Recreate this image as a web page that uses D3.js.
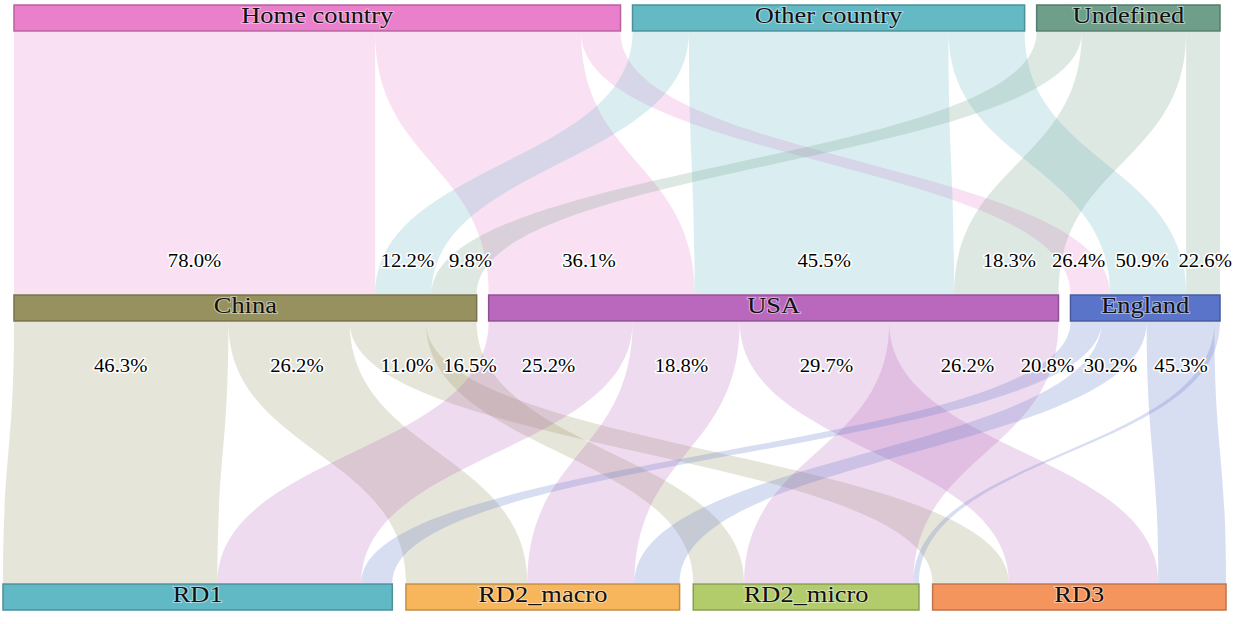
<!DOCTYPE html>
<html>
<head>
<meta charset="utf-8">
<script src="https://cdn.jsdelivr.net/npm/d3@7"></script>
<style>
  body { margin: 0; background: #fff; }
  text { font-family: "Liberation Serif", "Times New Roman", serif; }
</style>
</head>
<body>
<svg id="chart"></svg>
<script>
// categories for the three levels
var topNodes = ["Home country", "Other country", "Undefined"];
var midNodes = ["China", "USA", "England"];
var botNodes = ["RD1", "RD2_macro", "RD2_micro", "RD3"];

// counts: rows = top node, cols = middle node
var topToMid = [
  [128, 73, 14],
  [20, 92, 27],
  [16, 37, 12]
];
// counts: rows = middle node, cols = bottom node
var midToBot = [
  [76, 43, 18, 27],
  [51, 38, 60, 53],
  [11, 16, 2, 24]
];
// order in which the ribbons leave a middle node
var midOutOrder = ["RD1", "RD2_macro", "RD3", "RD2_micro"];

var topColors = ["#ea7fcb", "#63b9c4", "#6f9f8a"];
var midColors = ["#979160", "#b968bd", "#5a74c9"];
var botColors = ["#62b9c6", "#f8b65c", "#b3cc6b", "#f5955e"];

var w = 1248, h = 624;
var barH = 26;
var labelGap = 63;
var fmt = d3.format(".1%");

var svg = d3.select("#chart")
  .attr("width", w)
  .attr("height", h);

var topVals = topToMid.map(function(r) { return d3.sum(r); });
var midVals = midToBot.map(function(r) { return d3.sum(r); });
var botVals = botNodes.map(function(d, j) { return d3.sum(midToBot, function(r) { return r[j]; }); });
var total = d3.sum(topVals);

var rows = [
  { names: topNodes, vals: topVals, colors: topColors, y: 5, x0: 14, x1: 1220 },
  { names: midNodes, vals: midVals, colors: midColors, y: 295, x0: 14, x1: 1220 },
  { names: botNodes, vals: botVals, colors: botColors, y: 584, x0: 3, x1: 1226 }
];

// one scale for all rows, taken from the top row with 12px gaps
var k = d3.scaleLinear()
  .domain([0, total])
  .range([0, (rows[0].x1 - rows[0].x0) - 12 * (topNodes.length - 1)]);

rows.forEach(function(row) {
  var pad = ((row.x1 - row.x0) - k(total)) / (row.names.length - 1);
  var x = row.x0;
  row.nodes = row.names.map(function(name, i) {
    var n = { name: name, value: row.vals[i], color: row.colors[i], x: x, w: k(row.vals[i]), y: row.y };
    x += n.w + pad;
    return n;
  });
});

var topN = rows[0].nodes, midN = rows[1].nodes, botN = rows[2].nodes;

// top -> middle ribbons
var linksA = [];
var srcOff = topN.map(function() { return 0; });
topN.forEach(function(s, i) {
  midN.forEach(function(t, j) {
    var l = { s: i, t: j, value: topToMid[i][j], w: k(topToMid[i][j]), color: s.color,
              y0: s.y + barH + 1, y1: t.y - 1 };
    l.sx = s.x + srcOff[i];
    srcOff[i] += l.w;
    linksA.push(l);
  });
});
midN.forEach(function(t, j) {
  var off = 0;
  topN.forEach(function(s, i) {
    var l = linksA.find(function(d) { return d.s === i && d.t === j; });
    l.tx = t.x + off;
    off += l.w;
  });
});

// middle -> bottom ribbons
var linksB = [];
midN.forEach(function(s, i) {
  var off = 0;
  midOutOrder.forEach(function(name) {
    var j = botNodes.indexOf(name);
    var l = { s: i, t: j, value: midToBot[i][j], w: k(midToBot[i][j]), color: s.color,
              y0: s.y + barH + 1, y1: botN[j].y - 1 };
    l.sx = s.x + off;
    off += l.w;
    linksB.push(l);
  });
});
botN.forEach(function(t, j) {
  var off = 0;
  midN.forEach(function(s, i) {
    var l = linksB.find(function(d) { return d.s === i && d.t === j; });
    l.tx = t.x + off;
    off += l.w;
  });
});

function ribbon(l) {
  var ym = (l.y0 + l.y1) / 2;
  var sx2 = l.sx + l.w, tx2 = l.tx + l.w;
  return "M" + l.sx + "," + l.y0 +
    "C" + l.sx + "," + ym + " " + l.tx + "," + ym + " " + l.tx + "," + l.y1 +
    "L" + tx2 + "," + l.y1 +
    "C" + tx2 + "," + ym + " " + sx2 + "," + ym + " " + sx2 + "," + l.y0 + "Z";
}

// x of a ribbon's centre line at height y
function xAt(l, y) {
  var f = (y - l.y0) / (l.y1 - l.y0);
  var lo = 0, hi = 1;
  for (var n = 0; n < 40; n++) {
    var t = (lo + hi) / 2;
    if (1.5 * t - 1.5 * t * t + t * t * t < f) lo = t; else hi = t;
  }
  var t = (lo + hi) / 2, g = 3 * t * t - 2 * t * t * t;
  var c0 = l.sx + l.w / 2, c1 = l.tx + l.w / 2;
  return c0 + (c1 - c0) * g;
}

// push overlapping labels apart, keeping each cluster centred
function spread(xs, gap) {
  var groups = xs.map(function(x) { return { n: 1, s: x }; });
  var merged = true;
  while (merged) {
    merged = false;
    for (var i = 0; i < groups.length - 1; i++) {
      var a = groups[i], b = groups[i + 1];
      var aEnd = a.s / a.n + (a.n - 1) * gap / 2;
      var bStart = b.s / b.n - (b.n - 1) * gap / 2;
      if (bStart - aEnd < gap) {
        groups.splice(i, 2, { n: a.n + b.n, s: a.s + b.s });
        merged = true;
        break;
      }
    }
  }
  var out = [];
  groups.forEach(function(g) {
    var c = g.s / g.n;
    for (var m = 0; m < g.n; m++) out.push(c + (m - (g.n - 1) / 2) * gap);
  });
  return out;
}

svg.append("g").selectAll("path")
  .data(linksA.concat(linksB))
  .enter()
  .append("path")
  .attr("d", ribbon)
  .attr("fill", function(d) { return d.color; })
  .attr("fill-opacity", 0.24);

// bars
rows.forEach(function(row) {
  var g = svg.append("g");
  g.selectAll("rect")
    .data(row.nodes)
    .enter()
    .append("rect")
    .attr("x", function(d) { return d.x; })
    .attr("y", function(d) { return d.y; })
    .attr("width", function(d) { return d.w; })
    .attr("height", barH)
    .attr("fill", function(d) { return d.color; })
    .attr("stroke", function(d) { return d3.color(d.color).darker(0.7); })
    .attr("stroke-width", 1.5);

  g.selectAll("text")
    .data(row.nodes)
    .enter()
    .append("text")
    .attr("transform", function(d) { return "translate(" + (d.x + d.w / 2) + "," + (d.y + 18) + ") scale(1.15,1)"; })
    .attr("text-anchor", "middle")
    .attr("font-size", "23px")
    .attr("fill", "#111")
    .attr("stroke", "#fff")
    .attr("stroke-opacity", 0.45)
    .attr("stroke-width", 2)
    .attr("paint-order", "stroke")
    .text(function(d) { return d.name; });
});

// percentage labels above the middle row (share of each middle node)
var yA = midN[0].y - 34;
var labA = linksA.slice().sort(function(a, b) { return a.t - b.t || a.s - b.s; })
  .map(function(l) { return { x: xAt(l, yA), text: fmt(l.value / midVals[l.t]) }; });
var xsA = spread(labA.map(function(d) { return d.x; }), labelGap);
labA.forEach(function(d, i) { d.x = xsA[i]; d.y = yA; });

// percentage labels below the middle row: text in category order,
// placed along the ribbons as they leave the node (as in the original)
var yB = midN[0].y + barH + 45;
var labB = [];
midN.forEach(function(s, i) {
  var texts = botNodes.map(function(name, j) { return midToBot[i][j] / midVals[i]; })
    .filter(function(p) { return p >= 0.05; })
    .map(fmt);
  var xs = linksB.filter(function(l) { return l.s === i && l.value / midVals[i] >= 0.05; })
    .map(function(l) { return xAt(l, yB); })
    .sort(d3.ascending);
  texts.forEach(function(t, m) { labB.push({ x: xs[m], text: t }); });
});
var xsB = spread(labB.map(function(d) { return d.x; }), labelGap);
labB.forEach(function(d, i) { d.x = xsB[i]; d.y = yB; });

svg.append("g").selectAll("text")
  .data(labA.concat(labB))
  .enter()
  .append("text")
  .attr("transform", function(d) { return "translate(" + d.x + "," + d.y + ") scale(1.15,1)"; })
  .attr("dy", "0.35em")
  .attr("text-anchor", "middle")
  .attr("font-size", "18px")
  .attr("fill", "#000")
  .attr("stroke", "#fff")
  .attr("stroke-width", 3)
  .attr("stroke-linejoin", "round")
  .attr("paint-order", "stroke")
  .text(function(d) { return d.text; });
</script>
</body>
</html>
